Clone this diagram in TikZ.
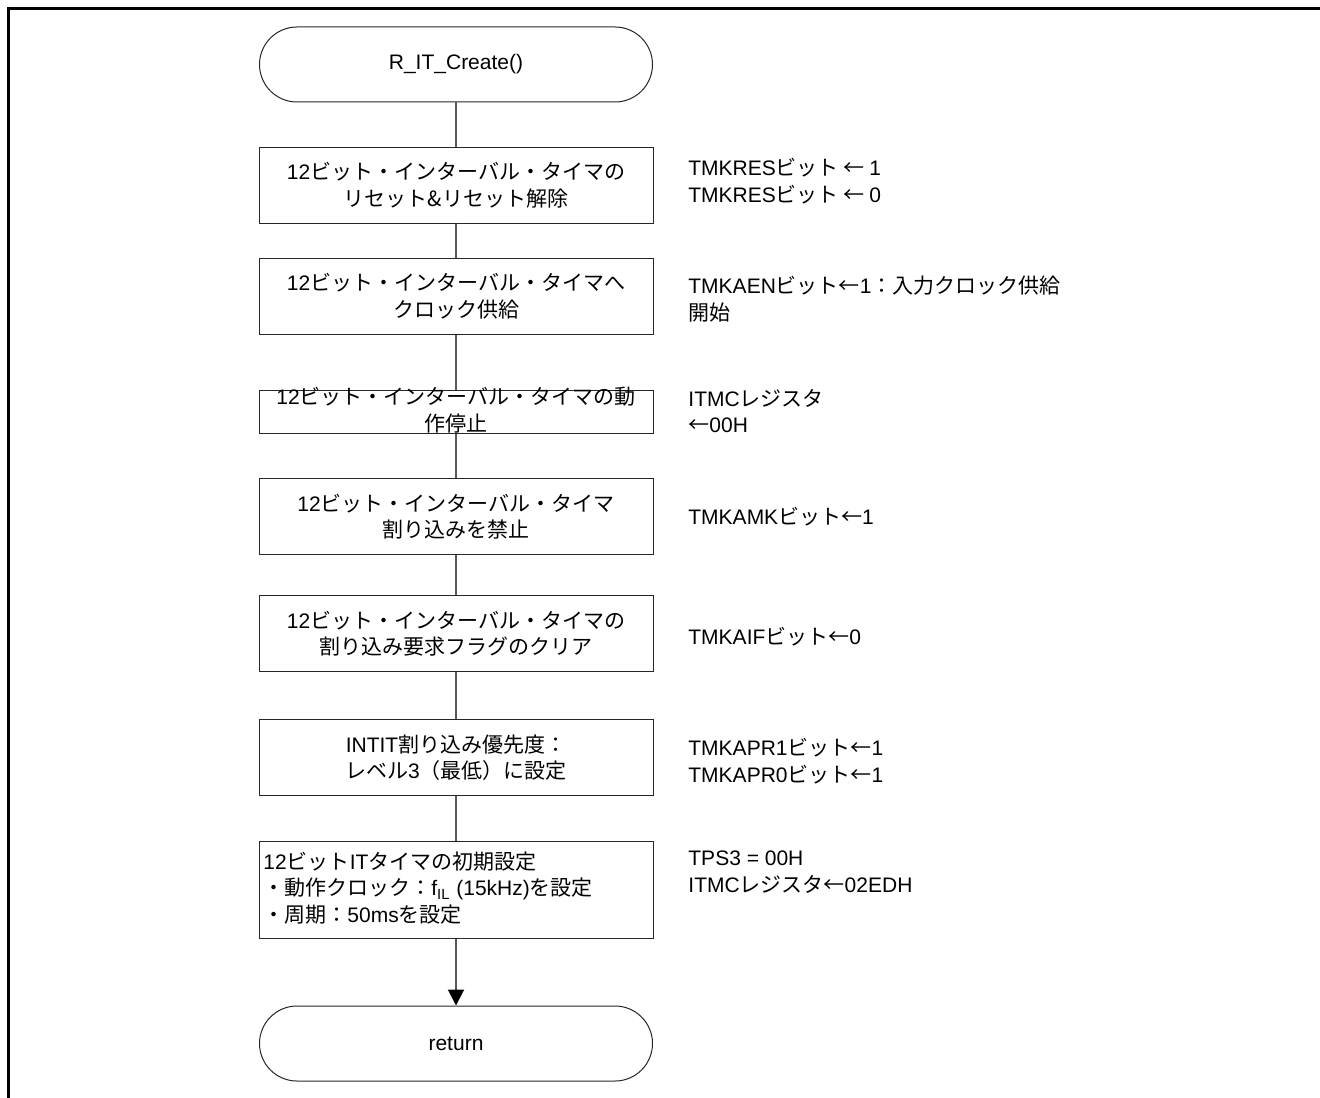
\documentclass[tikz,border=0pt]{standalone}
\usepackage{fontspec}
\setmainfont{Liberation Sans}
\newfontfamily\jp{Noto Sans CJK JP}
\newcommand\jt[1]{{\jp #1}}
\usetikzlibrary{arrows.meta}
\begin{document}
\begin{tikzpicture}[x=0.5pt,y=-0.5pt,
  every node/.style={font=\fontsize{10.5}{13.25}\selectfont},
  proc/.style={draw=black!85,line width=0.5pt,minimum width=197pt,minimum height=38pt,inner sep=0pt,align=center},
  term/.style={draw=black!85,line width=0.5pt,rounded corners=18.75pt,minimum width=196.5pt,minimum height=37.5pt,inner sep=0pt},
  conn/.style={draw=black!65,line width=1pt},
  note/.style={anchor=west,align=left,inner sep=0pt},
  plain/.style={align=center,inner sep=0pt},
  frameline/.style={line width=1.5pt,line cap=rect}]
\useasboundingbox (0,0) rectangle (1320,1097);
\draw[frameline] (8.5,1110) -- (8.5,8.5) -- (1330,8.5);

\node[term] (start) at (456,64.5) {R\_IT\_Create()};
\node[proc] (b1) at (456,185) {12\jt{ビット・インターバル・タイマの}\\\jt{リセット\&リセット解除}};
\node[proc] (b2) at (456,296) {12\jt{ビット・インターバル・タイマへ}\\\jt{クロック供給}};
\node[proc,minimum height=21.5pt] (b3) at (456,411.5) {};
\node[plain] (b3t) at (456,410) {12\jt{ビット・インターバル・タイマの動}\\\jt{作停止}};
\node[proc] (b4) at (456,516.5) {12\jt{ビット・インターバル・タイマ}\\\jt{割り込みを禁止}};
\node[proc] (b5) at (456,633.5) {12\jt{ビット・インターバル・タイマの}\\\jt{割り込み要求フラグのクリア}};
\node[proc] (b6) at (456,757.5) {INTIT\jt{割り込み優先度：}\\\jt{レベル}3\jt{（最低）に設定}};
\node[proc,minimum height=48.5pt] (b7) at (456,889.5) {};
\node[note] (b7t) at (263,888) {12\jt{ビット}IT\jt{タイマの初期設定}\\\jt{・動作クロック：}f\textsubscript{IL} (15kHz)\jt{を設定}\\\jt{・周期：}50ms\jt{を設定}};
\node[term] (ret) at (456,1043.5) {return};

\draw[conn] (start) -- (b1);
\draw[conn] (b1) -- (b2);
\draw[conn] (b2) -- (b3);
\draw[conn] (b3) -- (b4);
\draw[conn] (b4) -- (b5);
\draw[conn] (b5) -- (b6);
\draw[conn] (b6) -- (b7);
\draw[conn,-{Triangle[length=8pt,width=8pt,color=black]}] (b7) -- (ret);

\node[note] (r1) at (688,181) {TMKRES\jt{ビット ← }1\\TMKRES\jt{ビット ← }0};
\node[note] (r2) at (688,299) {TMKAEN\jt{ビット←}1\jt{：入力クロック供給}\\\jt{開始}};
\node[note] (r3) at (688,411) {ITMC\jt{レジスタ}\\\jt{←}00H};
\node[note] (r4) at (688,517) {TMKAMK\jt{ビット←}1};
\node[note] (r5) at (688,637) {TMKAIF\jt{ビット←}0};
\node[note] (r6) at (688,761) {TMKAPR1\jt{ビット←}1\\TMKAPR0\jt{ビット←}1};
\node[note] (r7) at (688,872) {TPS3 = 00H\\ITMC\jt{レジスタ←}02EDH};
\end{tikzpicture}
\end{document}
